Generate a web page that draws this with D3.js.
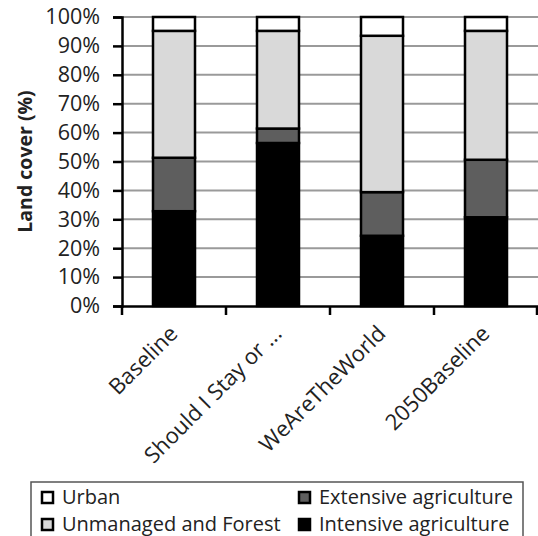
<!doctype html>
<html lang="en">
<head>
  <meta charset="utf-8">
  <title>Land cover</title>
  <style>
    body { margin: 0; background: #fff; }
    svg { display: block; font-family: "Open Sans", sans-serif; }
    .grid line { stroke: #9a9a9a; stroke-width: 2; }
  </style>
</head>
<body>
  <div id="chart"></div>

  <script src="https://d3js.org/d3.v7.min.js"></script>
  <script>
    const scenarios = ['Baseline', 'Should I Stay or ...', 'WeAreTheWorld', '2050Baseline'];
    const intensive = [32.8, 56.4, 24.3, 30.7];
    const extensive = [18.5, 5.0, 15.1, 19.9];
    const unmanaged = [43.9, 33.8, 54.1, 44.6];
    const urban = [4.8, 4.8, 6.5, 4.8];
    const yTicks = [0, 10, 20, 30, 40, 50, 60, 70, 80, 90, 100];

    const seriesKeys = ['intensive', 'extensive', 'unmanaged', 'urban'];
    const seriesColors = { intensive: '#000000', extensive: '#5e5e5e', unmanaged: '#d9d9d9', urban: '#ffffff' };
    const legendItems = [
      { key: 'urban', label: 'Urban' },
      { key: 'extensive', label: 'Extensive agriculture' },
      { key: 'unmanaged', label: 'Unmanaged and Forest' },
      { key: 'intensive', label: 'Intensive agriculture' }
    ];

    const rows = scenarios.map((s, i) => ({
      scenario: s,
      intensive: intensive[i],
      extensive: extensive[i],
      unmanaged: unmanaged[i],
      urban: urban[i]
    }));

    const width = 538, height = 536;
    const plotLeft = 122, plotRight = 538, plotTop = 17, plotBottom = 306;

    const svg = d3.select('#chart').append('svg')
      .attr('width', width)
      .attr('height', height);

    const x = d3.scaleBand().domain(scenarios).range([plotLeft, plotRight]).paddingInner(0).paddingOuter(0);
    const y = d3.scaleLinear().domain([0, 100]).range([plotBottom, plotTop]);

    // gridlines
    svg.append('g').attr('class', 'grid')
      .selectAll('line')
      .data(yTicks.filter(d => d > 0))
      .join('line')
      .attr('x1', plotLeft).attr('x2', plotRight)
      .attr('y1', d => y(d)).attr('y2', d => y(d));

    // stacked bars
    const stacked = d3.stack().keys(seriesKeys)(rows);
    const barW = 42;
    svg.append('g')
      .selectAll('g')
      .data(stacked)
      .join('g')
      .attr('fill', d => seriesColors[d.key])
      .selectAll('rect')
      .data(d => d)
      .join('rect')
      .attr('x', d => x(d.data.scenario) + x.bandwidth() / 2 - barW / 2)
      .attr('width', barW)
      .attr('y', d => y(d[1]))
      .attr('height', d => y(d[0]) - y(d[1]))
      .attr('stroke', '#000')
      .attr('stroke-width', 2.5);

    // y axis
    const yAxis = svg.append('g')
      .attr('transform', `translate(${plotLeft},0)`)
      .call(d3.axisLeft(y).tickValues(yTicks).tickFormat(d => d + '%').tickSize(9).tickPadding(13));
    yAxis.select('.domain').attr('stroke', '#000').attr('stroke-width', 2.5);
    yAxis.selectAll('.tick line').attr('stroke', '#000').attr('stroke-width', 2.5);
    yAxis.selectAll('.tick text')
      .attr('font-size', 21.5)
      .attr('font-family', '"Open Sans", sans-serif')
      .attr('fill', '#222');

    // x axis
    const xAxis = svg.append('g')
      .attr('transform', `translate(0,${plotBottom})`)
      .call(d3.axisBottom(x).tickSize(0).tickFormat(''));
    xAxis.select('.domain').attr('stroke', '#000').attr('stroke-width', 2.5);

    // category boundary ticks
    const bounds = scenarios.map(s => x(s)).concat([plotRight]);
    svg.append('g')
      .selectAll('line')
      .data(bounds)
      .join('line')
      .attr('x1', d => Math.min(d, plotRight - 1)).attr('x2', d => Math.min(d, plotRight - 1))
      .attr('y1', plotBottom).attr('y2', plotBottom + 9)
      .attr('stroke', '#000').attr('stroke-width', 2.5);

    // x labels
    svg.append('g')
      .selectAll('text')
      .data(scenarios)
      .join('text')
      .attr('transform', d => `translate(${x(d) + x.bandwidth() / 2 + 5},${plotBottom + 29}) rotate(-45)`)
      .attr('text-anchor', 'end')
      .attr('font-size', 22)
      .attr('fill', '#222')
      .text(d => d);

    // y title
    svg.append('text')
      .attr('transform', `translate(32,${(plotTop + plotBottom) / 2}) rotate(-90)`)
      .attr('text-anchor', 'middle')
      .attr('font-size', 19.5)
      .attr('font-weight', 'bold')
      .attr('fill', '#222')
      .text('Land cover (%)');

    // legend
    const legend = svg.append('g');
    legend.append('rect')
      .attr('x', 31).attr('y', 482)
      .attr('width', 492).attr('height', 60)
      .attr('fill', 'none').attr('stroke', '#555').attr('stroke-width', 1.5);

    const cols = [42, 299];
    const rowsY = [504, 531];
    const item = legend.selectAll('g.item')
      .data(legendItems)
      .join('g')
      .attr('class', 'item')
      .attr('transform', (d, i) => `translate(${cols[i % 2]},${rowsY[Math.floor(i / 2)]})`);
    item.append('rect')
      .attr('x', 0).attr('y', -12)
      .attr('width', 11).attr('height', 11)
      .attr('fill', d => seriesColors[d.key])
      .attr('stroke', '#000').attr('stroke-width', 2.5);
    item.append('text')
      .attr('x', 20)
      .attr('font-size', 20)
      .attr('fill', '#222')
      .text(d => d.label);
  </script>
</body>
</html>
